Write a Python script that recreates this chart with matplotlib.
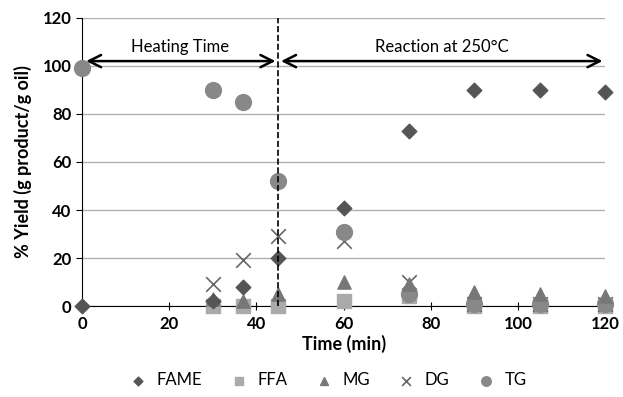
import matplotlib.pyplot as plt

plt.rcParams['font.family'] = ['Lato', 'DejaVu Sans']

# data
time_fame = [0, 30, 37, 45, 60, 75, 90, 105, 120]
fame = [0, 2, 8, 20, 41, 73, 90, 90, 89]
time_rxn = [30, 37, 45, 60, 75, 90, 105, 120]
ffa = [0, 0, 0, 2, 4, 0, 0, 0]
mg = [3, 2, 5, 10, 9, 6, 5, 4]
dg = [9, 19, 29, 27, 10, 1, 1, 1]
time_tg = [0, 30, 37, 45, 60, 75, 90, 105, 120]
tg = [99, 90, 85, 52, 31, 5, 1, 1, 1]

fig = plt.figure(figsize=(6.23, 3.97), dpi=100)
ax = fig.add_axes([0.1316, 0.229, 0.84, 0.726])

ax.scatter(time_fame, fame, marker='D', s=55, color='#555555', label='FAME', zorder=6, clip_on=False)
ax.scatter(time_rxn, ffa, marker='s', s=90, color='#aaaaaa', label='FFA', zorder=3, clip_on=False)
ax.scatter(time_rxn, mg, marker='^', s=90, color='#777777', label='MG', zorder=5, clip_on=False)
ax.scatter(time_rxn, dg, marker='x', s=110, color='#666666', linewidths=1.2, label='DG', zorder=3.5, clip_on=False)
ax.scatter(time_tg, tg, marker='o', s=130, color='#888888', label='TG', zorder=4, clip_on=False)

ax.set_xlim(0, 120)
ax.set_ylim(0, 120)
ax.set_xticks(range(0, 121, 20))
ax.set_yticks(range(0, 121, 20))
ax.yaxis.grid(True, color='#b0b0b0', linewidth=1)
ax.set_axisbelow(True)
for s in ['top', 'right']:
    ax.spines[s].set_visible(False)
ax.tick_params(axis='x', direction='inout', length=6, labelsize=12, pad=4)
ax.tick_params(axis='y', direction='out', length=4, labelsize=12)
for lbl in ax.get_xticklabels() + ax.get_yticklabels():
    lbl.set_fontweight('bold')

ax.axvline(45, color='black', linestyle='--', linewidth=1.2, zorder=8)

arrow = dict(arrowstyle='<->', color='black', lw=1.8, mutation_scale=22)
ax.annotate('', xy=(0.3, 102), xytext=(45, 102), arrowprops=arrow)
ax.annotate('', xy=(45, 102), xytext=(120, 102), arrowprops=arrow)
ax.text(22.5, 104.5, 'Heating Time', ha='center', va='bottom', fontsize=12)
ax.text(82.5, 104.5, 'Reaction at 250\u00b0C', ha='center', va='bottom', fontsize=12)

ax.set_xlabel('Time (min)', fontsize=13, fontweight='bold', labelpad=2)
ax.set_ylabel('% Yield (g product/g oil)', fontsize=13, fontweight='bold', labelpad=8)

fig.legend(loc='lower center', ncol=5, frameon=False, fontsize=12,
           bbox_to_anchor=(0.52, -0.015), handletextpad=0.1, columnspacing=1.2,
           markerscale=0.6)

fig.savefig('out.png', dpi=100)
